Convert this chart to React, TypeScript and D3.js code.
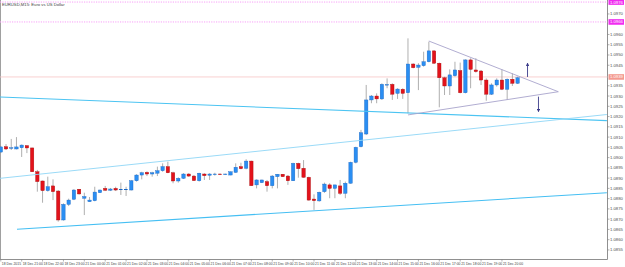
import React from "react";
import * as d3 from "d3";

// EURUSD M15, 18 Dec 20:00 -> 21 Dec 20:45
const dateLabels = [
  "18 Dec 2015", "18 Dec 21:00", "18 Dec 22:00", "18 Dec 23:00", "21 Dec 00:00",
  "21 Dec 01:00", "21 Dec 02:00", "21 Dec 03:00", "21 Dec 04:00", "21 Dec 05:00",
  "21 Dec 06:00", "21 Dec 07:00", "21 Dec 08:00", "21 Dec 09:00", "21 Dec 10:00",
  "21 Dec 11:00", "21 Dec 12:00", "21 Dec 13:00", "21 Dec 14:00", "21 Dec 15:00",
  "21 Dec 16:00", "21 Dec 17:00", "21 Dec 18:00", "21 Dec 19:00", "21 Dec 20:00",
];

const priceTicks = [
  1.097, 1.0965, 1.096, 1.0955, 1.095, 1.0945, 1.094, 1.0935, 1.093, 1.0925, 1.092, 1.0915,
  1.091, 1.0905, 1.09, 1.0895, 1.089, 1.0885, 1.088, 1.0875, 1.087, 1.0865, 1.086, 1.0855,
];

const opens = [
  1.09027, 1.09053, 1.09045, 1.09042, 1.09048, 1.09058, 1.09047, 1.08931, 1.08886, 1.08839,
  1.08862, 1.08837, 1.08696, 1.08772, 1.08797, 1.08846, 1.08802, 1.08785, 1.0879, 1.08829,
  1.0885, 1.08841, 1.0885, 1.08845, 1.08845, 1.08842, 1.08887, 1.08915, 1.08928, 1.0892,
  1.08924, 1.08936, 1.08956, 1.08926, 1.08886, 1.08899, 1.0892, 1.0891, 1.08887, 1.0892,
  1.08914, 1.08919, 1.0892, 1.08919, 1.08915, 1.08928, 1.08956, 1.08948, 1.08983, 1.08867,
  1.08878, 1.08883, 1.08863, 1.08907, 1.08919, 1.0891, 1.08887, 1.08972, 1.08948, 1.08904,
  1.08798, 1.08789, 1.08834, 1.08867, 1.0885, 1.08862, 1.08826, 1.08875, 1.08977, 1.09053,
  1.09115, 1.09281, 1.093, 1.09286, 1.09354, 1.09357, 1.09313, 1.09333, 1.09316, 1.09456,
  1.0944, 1.09448, 1.09467, 1.0952, 1.0946, 1.09389, 1.09349, 1.09399, 1.09424, 1.09316,
  1.09476, 1.09427, 1.09422, 1.09378, 1.09309, 1.09354, 1.09378, 1.09333, 1.09382, 1.09362,
];
const highs = [
  1.09057, 1.09066, 1.09091, 1.091, 1.09064, 1.09061, 1.09049, 1.0894, 1.08888, 1.08907,
  1.08894, 1.08842, 1.08777, 1.088, 1.08846, 1.08847, 1.08829, 1.08808, 1.08858, 1.08844,
  1.08862, 1.08852, 1.08858, 1.08878, 1.08858, 1.08891, 1.08919, 1.08931, 1.08933, 1.08931,
  1.08956, 1.08972, 1.0898, 1.08931, 1.08904, 1.08924, 1.08924, 1.08915, 1.08926, 1.08924,
  1.08924, 1.08926, 1.08922, 1.08922, 1.08932, 1.08972, 1.08975, 1.08992, 1.08985, 1.08894,
  1.08892, 1.08891, 1.08915, 1.0892, 1.0892, 1.08915, 1.08975, 1.08975, 1.08988, 1.08907,
  1.08821, 1.08834, 1.08878, 1.08875, 1.08867, 1.08891, 1.08883, 1.0898, 1.09053, 1.09135,
  1.09354, 1.09305, 1.09313, 1.09362, 1.09386, 1.09362, 1.09338, 1.09338, 1.09581, 1.0946,
  1.0946, 1.09516, 1.09565, 1.09523, 1.09463, 1.09394, 1.0943, 1.09467, 1.09463, 1.09479,
  1.09484, 1.09484, 1.09427, 1.09386, 1.09362, 1.09386, 1.0943, 1.09386, 1.09411, 1.09394,
];
const lows = [
  1.09022, 1.09037, 1.09037, 1.0904, 1.09003, 1.09022, 1.0893, 1.08834, 1.0878, 1.08834,
  1.08793, 1.08688, 1.08693, 1.08764, 1.08793, 1.08819, 1.0872, 1.08784, 1.08787, 1.08828,
  1.08837, 1.08837, 1.08837, 1.08818, 1.08813, 1.0884, 1.08883, 1.08894, 1.0891, 1.08907,
  1.0891, 1.08931, 1.08924, 1.08875, 1.08878, 1.08896, 1.08906, 1.08886, 1.08883, 1.08891,
  1.08891, 1.08912, 1.08915, 1.08915, 1.08914, 1.08926, 1.08943, 1.08943, 1.08862, 1.0885,
  1.08876, 1.08834, 1.0885, 1.0885, 1.08906, 1.08867, 1.08886, 1.08902, 1.08902, 1.0879,
  1.08745, 1.08785, 1.08828, 1.08802, 1.08802, 1.08818, 1.08802, 1.08873, 1.08972, 1.0905,
  1.0911, 1.09265, 1.09265, 1.09281, 1.09338, 1.09281, 1.09286, 1.09286, 1.09216, 1.09435,
  1.09329, 1.09443, 1.09464, 1.09456, 1.09245, 1.09305, 1.09305, 1.09394, 1.09313, 1.09313,
  1.09338, 1.09414, 1.09354, 1.09277, 1.09305, 1.09346, 1.09329, 1.09281, 1.09349, 1.09359,
];
const closes = [
  1.09052, 1.09042, 1.09048, 1.09052, 1.09061, 1.09047, 1.08931, 1.08883, 1.08839, 1.08858,
  1.08834, 1.08696, 1.08772, 1.08793, 1.08842, 1.08823, 1.0881, 1.08793, 1.08832, 1.08842,
  1.08841, 1.08847, 1.08842, 1.08846, 1.08846, 1.08887, 1.08915, 1.08926, 1.0892, 1.08926,
  1.08936, 1.08956, 1.08926, 1.08886, 1.08899, 1.0892, 1.0891, 1.08888, 1.08924, 1.08912,
  1.0892, 1.0892, 1.08919, 1.0892, 1.08931, 1.08953, 1.08946, 1.08983, 1.08863, 1.08891,
  1.08891, 1.08863, 1.0891, 1.08919, 1.08907, 1.08887, 1.08972, 1.08946, 1.08904, 1.08793,
  1.0879, 1.08831, 1.08871, 1.0885, 1.08867, 1.08826, 1.08875, 1.08977, 1.0905, 1.09121,
  1.09281, 1.093, 1.09286, 1.09357, 1.09356, 1.09309, 1.09334, 1.09313, 1.09456, 1.09438,
  1.09451, 1.09467, 1.0952, 1.0946, 1.09389, 1.09349, 1.09403, 1.09427, 1.09316, 1.09476,
  1.0943, 1.09419, 1.09378, 1.09309, 1.09354, 1.09378, 1.09333, 1.09382, 1.09362, 1.09389,
];

// horizontal levels
const magentaLevels = [1.09758, 1.09661];
const bidPrice = 1.09393;

// trend lines as [candle index, price] anchors
const channelTop = [[-0.15, 1.08899], [116.1, 1.0921]];
const channelBottom = [[3.1, 1.08651], [116.1, 1.08829]];
const fallingLine = [[-0.15, 1.09295], [116.1, 1.0918]];
const triangleTop = [[82, 1.09568], [106.8, 1.09321]];
const triangleBottom = [[78, 1.09208], [106.8, 1.09321]];
const arrowUp = [[100.9, 1.09393], [100.9, 1.0946]];
const arrowDown = [[103, 1.09297], [103, 1.09224]];

const plotRight = 607.5;
const plotBottom = 259.5;

const x = d3.scaleLinear().domain([0, 99]).range([0.8, 517.6]);
const y = d3.scaleLinear().domain([1.08501, 1.09768]).range([260, 0]);
const fmt = d3.format(".4f");

const FONT = "'Liberation Sans', Arial, sans-serif";

const App = () => {
  const line = (pts: number[][]) => {
    const [[i0, p0], [i1, p1]] = pts;
    return { x1: x(i0), y1: y(p0), x2: x(i1), y2: y(p1) };
  };

  const hiddenNear = [...magentaLevels, bidPrice].map((p) => y(p));

  return (
    <svg
      width={625}
      height={267}
      style={{ position: "absolute", left: 0, top: 0, background: "#fff" }}
      fontFamily={FONT}
    >
      <defs>
        <marker id="ah" viewBox="0 0 6 6" refX="5" refY="3" markerWidth="4" markerHeight="4" orient="auto">
          <path d="M0,0 L6,3 L0,6 z" fill="#3b3b8a" />
        </marker>
      </defs>

      {/* frame */}
      <line x1={0.5} y1={0} x2={0.5} y2={plotBottom} stroke="#a0a0a0" />
      <line x1={plotRight} y1={0} x2={plotRight} y2={plotBottom} stroke="#909090" />
      <line x1={0} y1={plotBottom} x2={plotRight} y2={plotBottom} stroke="#909090" />

      {/* levels */}
      {magentaLevels.map((p, i) => (
        <line key={i} x1={0} x2={plotRight} y1={y(p)} y2={y(p)} stroke="#f7a0f7" strokeWidth={1} strokeDasharray="1.2,1.2" />
      ))}
      <line x1={0} x2={plotRight} y1={y(bidPrice)} y2={y(bidPrice)} stroke="#f7c4c4" strokeWidth={0.8} />

      {/* candles */}
      {opens.map((o, i) => {
        const c = closes[i];
        const up = c >= o;
        const cx = x(i);
        const top = y(Math.max(o, c));
        const bot = y(Math.min(o, c));
        return (
          <g key={i}>
            <line x1={cx} x2={cx} y1={y(highs[i])} y2={y(lows[i])} stroke="#9a9a9a" strokeWidth={0.8} />
            <rect
              x={cx - 1.7}
              width={3.4}
              y={top}
              height={Math.max(0.6, bot - top)}
              fill={up ? "#2a8ef2" : "#e3121b"}
              stroke={up ? "#1a66c4" : "#a80d0d"}
              strokeWidth={0.4}
            />
          </g>
        );
      })}

      {/* trend lines */}
      <line {...line(fallingLine)} stroke="#4cc4f2" strokeWidth={1.1} />
      <line {...line(channelTop)} stroke="#8fd6f6" strokeWidth={0.9} />
      <line {...line(channelBottom)} stroke="#45bff3" strokeWidth={1.1} />
      <line {...line(triangleTop)} stroke="#a8a4cc" strokeWidth={0.9} />
      <line {...line(triangleBottom)} stroke="#a8a4cc" strokeWidth={0.9} />
      <line {...line(arrowUp)} stroke="#3b3b8a" strokeWidth={0.9} markerEnd="url(#ah)" />
      <line {...line(arrowDown)} stroke="#3b3b8a" strokeWidth={0.9} markerEnd="url(#ah)" />

      {/* title */}
      <text x={2} y={6} fontSize={4.2} fill="#404040">EURUSD,M15: Euro vs US Dollar</text>

      {/* price axis */}
      {priceTicks.map((p, i) => {
        const ty = y(p);
        if (hiddenNear.some((h) => Math.abs(h - ty) < 5)) return null;
        return (
          <g key={i}>
            <line x1={plotRight} x2={plotRight + 2} y1={ty} y2={ty} stroke="#808080" strokeWidth={0.6} />
            <text x={610} y={ty + 1.5} fontSize={4.2} fill="#505050">{fmt(p)}</text>
          </g>
        );
      })}
      {magentaLevels.map((p, i) => (
        <g key={i}>
          <rect x={608.5} y={y(p) - 2.8} width={15.5} height={5.6} fill="#f02cf0" />
          <text x={610} y={y(p) + 1.5} fontSize={4.2} fill="#fff">{fmt(p)}</text>
        </g>
      ))}
      <rect x={608.5} y={y(bidPrice) - 2.8} width={15.5} height={5.6} fill="#f49a90" />
      <text x={610} y={y(bidPrice) + 1.5} fontSize={4.2} fill="#fff">{fmt(bidPrice)}</text>

      {/* time axis */}
      {dateLabels.map((d, i) => {
        const tx = x(i * 4);
        return (
          <g key={i}>
            <line x1={tx} x2={tx} y1={plotBottom} y2={plotBottom + 2} stroke="#808080" strokeWidth={0.6} />
            <text x={tx + 1} y={264.5} fontSize={3.4} fill="#404040">{d}</text>
          </g>
        );
      })}
    </svg>
  );
};

export default App;
